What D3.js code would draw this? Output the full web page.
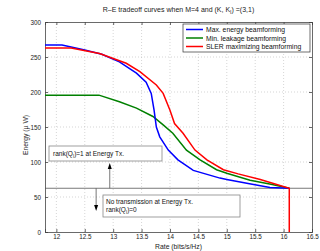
<!DOCTYPE html>
<html>
<head>
  <script src="https://cdn.jsdelivr.net/npm/d3@7"></script>
  <style>
    body { margin: 0; background: #fff; }
    text { font-family: "Liberation Sans", Arial, sans-serif; }
  </style>
</head>
<body>
<script>
  // chart size
  const w = 320, h = 251;

  // data (rate in bits/s/Hz, energy in uW)
  const maxEnergyRate   = [11.8, 12.1, 12.5, 12.8, 13.11, 13.41, 13.58, 13.67, 13.72, 13.76, 13.82, 13.97, 14.14, 14.41, 14.88, 15.0, 15.4, 15.76, 16.1];
  const maxEnergyVal    = [267, 267, 260, 254, 243, 227, 214, 198, 174, 150, 136, 117, 103, 88, 77, 75, 69, 63.5, 62.5];
  const minLeakRate     = [11.8, 12.75, 13.11, 13.41, 13.7, 13.88, 14.05, 14.29, 14.53, 14.82, 15.0, 15.41, 15.8, 16.1];
  const minLeakVal      = [195.5, 195.5, 186, 177, 165, 153, 141, 117, 103, 89, 84, 74, 68, 62.5];
  const slerRate        = [11.8, 12.26, 12.76, 13.23, 13.47, 13.76, 13.88, 14.0, 14.08, 14.23, 14.44, 14.65, 14.94, 15.2, 15.59, 16.1, 16.1];
  const slerVal         = [263, 263, 255, 241, 229, 210, 198, 174, 155, 141, 117, 103, 89, 83, 75, 62.5, 0];

  const seriesNames = ["Max. energy beamforming", "Min. leakage beamforming", "SLER maximizing beamforming"];
  const seriesColors = ["#0000ff", "#008000", "#ff0000"];
  const xTicks = [12, 12.5, 13, 13.5, 14, 14.5, 15, 15.5, 16, 16.5];
  const yTicks = [0, 50, 100, 150, 200, 250, 300];
  const threshold = 62.5;

  const m = { left: 45, right: 8, top: 22, bottom: 19 };

  const x = d3.scaleLinear().domain([11.8, 16.5]).range([m.left, w - m.right]);
  const y = d3.scaleLinear().domain([0, 300]).range([h - m.bottom, m.top]);

  const svg = d3.select("body").append("svg")
    .attr("width", w).attr("height", h);

  // grid
  svg.append("g").selectAll("line").data(xTicks.filter(d => d < 16.5))
    .enter().append("line")
    .attr("x1", d => x(d)).attr("x2", d => x(d))
    .attr("y1", y(0)).attr("y2", y(300))
    .attr("stroke", "#bbb").attr("stroke-width", 0.6).attr("stroke-dasharray", "1,2");
  svg.append("g").selectAll("line").data(yTicks.filter(d => d > 0 && d < 300))
    .enter().append("line")
    .attr("x1", x(11.8)).attr("x2", x(16.5))
    .attr("y1", d => y(d)).attr("y2", d => y(d))
    .attr("stroke", "#bbb").attr("stroke-width", 0.6).attr("stroke-dasharray", "1,2");

  // axes
  const xAxis = svg.append("g")
    .attr("transform", `translate(0,${y(0)})`)
    .call(d3.axisBottom(x).tickValues(xTicks).tickSize(-3).tickPadding(3).tickFormat(d3.format("")));
  const yAxis = svg.append("g")
    .attr("transform", `translate(${x(11.8)},0)`)
    .call(d3.axisLeft(y).tickValues(yTicks).tickSize(-3).tickPadding(4));
  [xAxis, yAxis].forEach(a => {
    a.select(".domain").attr("stroke", "#444").attr("stroke-width", 0.8);
    a.selectAll(".tick line").attr("stroke", "#444").attr("stroke-width", 0.8);
    a.selectAll("text").attr("font-size", 6.3).attr("fill", "#222");
  });
  // top and right borders with inner ticks
  svg.append("g").attr("transform", `translate(0,${y(300)})`)
    .call(d3.axisTop(x).tickValues(xTicks).tickSize(-3).tickFormat(""))
    .call(g => g.selectAll("path,line").attr("stroke", "#444").attr("stroke-width", 0.8));
  svg.append("g").attr("transform", `translate(${x(16.5)},0)`)
    .call(d3.axisRight(y).tickValues(yTicks).tickSize(-3).tickFormat(""))
    .call(g => g.selectAll("path,line").attr("stroke", "#444").attr("stroke-width", 0.8));

  // threshold line
  svg.append("line")
    .attr("x1", x(11.8)).attr("x2", x(16.5))
    .attr("y1", y(threshold)).attr("y2", y(threshold))
    .attr("stroke", "#555").attr("stroke-width", 0.8);

  // curves
  const line = d3.line().x(d => x(d[0])).y(d => y(d[1]));
  const series = [
    d3.zip(maxEnergyRate, maxEnergyVal),
    d3.zip(minLeakRate, minLeakVal),
    d3.zip(slerRate, slerVal)
  ];
  [1, 0, 2].forEach(i => {
    svg.append("path").datum(series[i])
      .attr("d", line)
      .attr("fill", "none")
      .attr("stroke", seriesColors[i])
      .attr("stroke-width", 1.5);
  });

  // legend
  const lg = svg.append("g").attr("transform", "translate(183,24)");
  lg.append("rect").attr("width", 127).attr("height", 28)
    .attr("fill", "#fff").attr("stroke", "#333").attr("stroke-width", 0.7);
  seriesNames.forEach((n, i) => {
    lg.append("line").attr("x1", 3).attr("x2", 20)
      .attr("y1", 5.5 + i * 8.5).attr("y2", 5.5 + i * 8.5)
      .attr("stroke", seriesColors[i]).attr("stroke-width", 1.5);
    lg.append("text").attr("x", 23).attr("y", 8 + i * 8.5)
      .attr("font-size", 6.8).attr("fill", "#111").text(n);
  });

  // title
  const title = svg.append("text")
    .attr("x", (x(11.8) + x(16.5)) / 2).attr("y", 12)
    .attr("text-anchor", "middle").attr("font-size", 7).attr("fill", "#222");
  title.append("tspan").text("R\u2013E tradeoff curves when M=4 and (K, K");
  title.append("tspan").attr("font-size", 5).attr("dy", 1.5).text("I");
  title.append("tspan").attr("dy", -1.5).text(") =(3,1)");

  // axis labels
  svg.append("text")
    .attr("x", (x(11.8) + x(16.5)) / 2).attr("y", 249)
    .attr("text-anchor", "middle").attr("font-size", 6.8).attr("fill", "#222")
    .text("Rate (bits/s/Hz)");
  svg.append("text")
    .attr("transform", `translate(28,${y(150) + 8}) rotate(-90)`)
    .attr("text-anchor", "middle").attr("font-size", 6.8).attr("fill", "#222")
    .text("Energy (\u00b5 W)");

  // annotations
  const arrow = (xv, y1, y2) => {
    svg.append("line").attr("x1", x(xv)).attr("x2", x(xv))
      .attr("y1", y1).attr("y2", y2 + (y2 < y1 ? 4 : -4))
      .attr("stroke", "#555").attr("stroke-width", 0.8);
    const dir = y2 < y1 ? 1 : -1;
    svg.append("path")
      .attr("d", `M${x(xv)},${y2} L${x(xv) - 2},${y2 + dir * 6} L${x(xv) + 2},${y2 + dir * 6} Z`)
      .attr("fill", "#000");
  };
  arrow(12.94, y(threshold), 163);
  arrow(12.7, y(threshold), 211);

  svg.append("rect").attr("x", 49).attr("y", 146).attr("width", 113).attr("height", 15)
    .attr("fill", "#fff").attr("stroke", "#888").attr("stroke-width", 0.8);
  const t1 = svg.append("text").attr("x", 53).attr("y", 156)
    .attr("font-size", 6.5).attr("fill", "#111");
  t1.append("tspan").text("rank(Q");
  t1.append("tspan").attr("font-size", 4.5).attr("dy", 1.5).text("I");
  t1.append("tspan").attr("dy", -1.5).text(")=1 at Energy Tx.");

  svg.append("rect").attr("x", 103).attr("y", 195).attr("width", 137).attr("height", 22)
    .attr("fill", "#fff").attr("stroke", "#888").attr("stroke-width", 0.8);
  svg.append("text").attr("x", 106).attr("y", 203.5)
    .attr("font-size", 6.5).attr("fill", "#111").text("No transmission at Energy Tx.");
  const t2 = svg.append("text").attr("x", 106).attr("y", 212)
    .attr("font-size", 6.5).attr("fill", "#111");
  t2.append("tspan").text("rank(Q");
  t2.append("tspan").attr("font-size", 4.5).attr("dy", 1.5).text("I");
  t2.append("tspan").attr("dy", -1.5).text(")=0");
</script>
</body>
</html>
